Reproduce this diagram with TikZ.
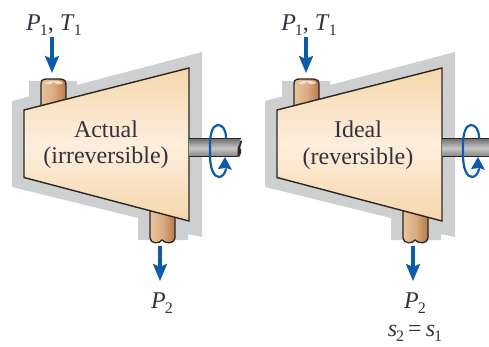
\documentclass[tikz,border=0pt]{standalone}
\usepackage{fontspec}
\setmainfont{Liberation Serif}
\usetikzlibrary{arrows.meta}
\definecolor{housing}{HTML}{CDCFD1}
\definecolor{bodyedge}{HTML}{2B2622}
\definecolor{flowblue}{HTML}{0D5CAB}
\definecolor{labelink}{HTML}{33323F}
\definecolor{pipeA}{HTML}{E8C39B}
\definecolor{pipeB}{HTML}{B9794A}
\definecolor{bodyA}{HTML}{F5D7AC}
\definecolor{bodyB}{HTML}{FDEEDD}
\newcommand{\vsub}[2]{\textit{#1}\kern-0.04em\raisebox{-0.2em}{\fontsize{16}{16}\selectfont #2}}
\tikzset{
  x=1pt,y=-1pt,
  label text/.style={text=labelink,inner sep=0pt,font=\fontsize{24}{24}\selectfont},
  var text/.style={text=labelink,inner sep=0pt,font=\fontsize{24}{24}\selectfont},
  flow/.style={draw=flowblue,line width=3.2pt,-{Stealth[length=17pt,width=14pt,inset=3pt]}},
  spin/.style={draw=flowblue,line width=2.2pt},
  pipe/.style={left color=pipeA,right color=pipeB,middle color=pipeA!70!pipeB,draw=bodyedge,line width=1.3pt},
  shaft/.style={top color=black!55,bottom color=black!50,middle color=black!22,draw=none},
  pics/turbine/.style={code={
    \fill[housing] (12,187) -- (12,101) -- (29,96.5) -- (29,81) -- (77,81) -- (77,85) -- (202,52) -- (202,237) -- (188,234) -- (188,240) -- (138,240) -- (138,218) -- cycle;
    \path[pipe] (41,112) -- (41,84) .. controls (41,78) and (45,79) .. (53,79) .. controls (60,79) and (66,78) .. (66,84) -- (66,100) -- cycle;
    \fill[pipeA!55!white] (45,83) .. controls (48,80) and (61,80) .. (63,83) .. controls (60,85) and (57,85) .. (54,82) .. controls (51,85) and (47,85) .. (45,83) -- cycle;
    \path[pipe] (150,207) -- (150,238) .. controls (150,244) and (160,244) .. (162,240) .. controls (165,244) and (175,244) .. (175,238) -- (175,214) -- cycle;
    \path[top color=bodyA,bottom color=bodyA,middle color=bodyB,draw=bodyedge,line width=1.4pt] (24,110) -- (189,68) -- (189,221) -- (24,177.5) -- cycle;
  }}
}
\begin{document}
\begin{tikzpicture}
\useasboundingbox (0,0) rectangle (489,347);
\pic (actual) at (0,0) {turbine};
\pic (ideal) at (253,0) {turbine};
% shafts
\fill[shaft] (189,139) rectangle (240,157);
\draw[bodyedge,line width=1pt] (189,139) -- (241,139) (189,157) -- (237,157);
\fill[bodyedge] (241,139) .. controls (244,143) and (238,147) .. (241,150) .. controls (242,153) and (240,156) .. (237,157) .. controls (239,153) and (236,148) .. (239,145) -- cycle;
\fill[shaft] (442,139) rectangle (489,157);
\draw[bodyedge,line width=1pt] (442,139) -- (489,139) (442,157) -- (489,157);
% rotation rings
\coordinate (ringA) at (218,151);
\coordinate (ringB) at (471,151);
\foreach \r in {ringA,ringB}{
  \draw[spin,line cap=round] ([shift={(8,-13)}]\r) .. controls ([shift={(8,-22)}]\r) and ([shift={(4,-26)}]\r) .. ([shift={(0,-26)}]\r) .. controls ([shift={(-5,-26)}]\r) and ([shift={(-8,-18)}]\r) .. ([shift={(-8,-6)}]\r) -- ([shift={(-8,4)}]\r) .. controls ([shift={(-8,18)}]\r) and ([shift={(-4,26)}]\r) .. ([shift={(1,26)}]\r) .. controls ([shift={(4,26)}]\r) and ([shift={(7,23)}]\r) .. ([shift={(8,18)}]\r);
  \fill[flowblue] ([shift={(7,6)}]\r) -- ([shift={(14,19)}]\r) -- ([shift={(8,17)}]\r) -- ([shift={(0,18)}]\r) -- cycle;
}
% labels
\node[label text] (actualA) at (106,129) {Actual};
\node[label text] (actualB) at (106,158) {(irreversible)};
\node[label text] (idealA) at (358,129) {Ideal};
\node[label text] (idealB) at (358,159) {(reversible)};
\node[var text] (inL) at (54,25) {\vsub{P}{1}, \vsub{T}{1}};
\node[var text] (inR) at (309,25) {\vsub{P}{1}, \vsub{T}{1}};
\node[var text] (outL) at (162,303) {\vsub{P}{2}};
\node[var text] (outR) at (415,303) {\vsub{P}{2}};
\node[var text] (entropy) at (415,333) {\vsub{s}{2}\,=\,\vsub{s}{1}};
% flow arrows
\coordinate (a1) at (52,37); \coordinate (a2) at (52,73);
\coordinate (b1) at (160,246); \coordinate (b2) at (160,281);
\coordinate (c1) at (306,37); \coordinate (c2) at (306,73);
\coordinate (d1) at (413,246); \coordinate (d2) at (413,281);
\draw[flow] (a1) -- (a2);
\draw[flow] (b1) -- (b2);
\draw[flow] (c1) -- (c2);
\draw[flow] (d1) -- (d2);
\end{tikzpicture}
\end{document}
